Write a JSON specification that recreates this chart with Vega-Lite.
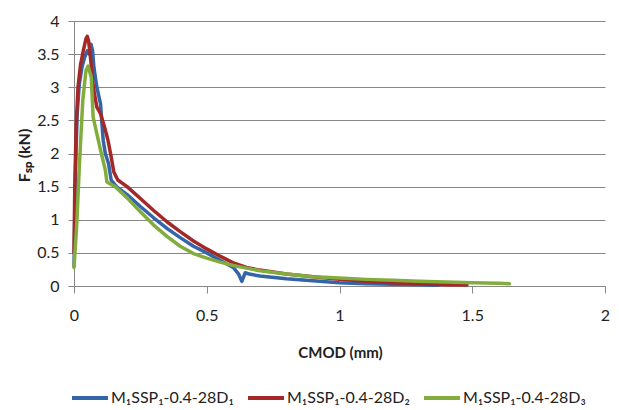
{
  "$schema": "https://vega.github.io/schema/vega-lite/v6.json",
  "width": 531,
  "height": 265,
  "autosize": "none",
  "padding": {"left": 74, "top": 21, "right": 14, "bottom": 124},
  "background": "white",
  "config": {
    "view": {"stroke": null},
    "font": "Lato",
    "axis": {"labelFont": "Lato", "titleFont": "Lato", "labelColor": "#222", "titleColor": "#222", "labelFlush": false, "format": "~g"},
    "legend": {"labelFont": "Lato"}
  },
  "data": {
    "values": [
      {"s": "D1", "o": 1, "x": 0, "y": 0.3},
      {"s": "D1", "o": 2, "x": 0.002, "y": 0.8},
      {"s": "D1", "o": 3, "x": 0.006, "y": 1.8},
      {"s": "D1", "o": 4, "x": 0.012, "y": 2.6},
      {"s": "D1", "o": 5, "x": 0.02, "y": 3.05},
      {"s": "D1", "o": 6, "x": 0.03, "y": 3.3},
      {"s": "D1", "o": 7, "x": 0.04, "y": 3.45},
      {"s": "D1", "o": 8, "x": 0.05, "y": 3.55},
      {"s": "D1", "o": 9, "x": 0.058, "y": 3.5},
      {"s": "D1", "o": 10, "x": 0.064, "y": 3.65},
      {"s": "D1", "o": 11, "x": 0.07, "y": 3.55},
      {"s": "D1", "o": 12, "x": 0.075, "y": 3.3},
      {"s": "D1", "o": 13, "x": 0.086, "y": 3.0},
      {"s": "D1", "o": 14, "x": 0.1, "y": 2.75},
      {"s": "D1", "o": 15, "x": 0.106, "y": 2.4},
      {"s": "D1", "o": 16, "x": 0.11, "y": 2.2},
      {"s": "D1", "o": 17, "x": 0.118, "y": 2.0},
      {"s": "D1", "o": 18, "x": 0.13, "y": 1.85},
      {"s": "D1", "o": 19, "x": 0.14, "y": 1.6},
      {"s": "D1", "o": 20, "x": 0.16, "y": 1.5},
      {"s": "D1", "o": 21, "x": 0.2, "y": 1.38},
      {"s": "D1", "o": 22, "x": 0.25, "y": 1.2},
      {"s": "D1", "o": 23, "x": 0.3, "y": 1.03},
      {"s": "D1", "o": 24, "x": 0.35, "y": 0.87},
      {"s": "D1", "o": 25, "x": 0.4, "y": 0.73},
      {"s": "D1", "o": 26, "x": 0.45, "y": 0.6},
      {"s": "D1", "o": 27, "x": 0.5, "y": 0.5},
      {"s": "D1", "o": 28, "x": 0.55, "y": 0.39},
      {"s": "D1", "o": 29, "x": 0.6, "y": 0.28},
      {"s": "D1", "o": 30, "x": 0.62, "y": 0.18},
      {"s": "D1", "o": 31, "x": 0.632, "y": 0.07},
      {"s": "D1", "o": 32, "x": 0.645, "y": 0.2},
      {"s": "D1", "o": 33, "x": 0.66, "y": 0.18},
      {"s": "D1", "o": 34, "x": 0.7, "y": 0.15},
      {"s": "D1", "o": 35, "x": 0.8, "y": 0.11},
      {"s": "D1", "o": 36, "x": 0.9, "y": 0.08},
      {"s": "D1", "o": 37, "x": 1.0, "y": 0.05},
      {"s": "D1", "o": 38, "x": 1.1, "y": 0.035},
      {"s": "D1", "o": 39, "x": 1.2, "y": 0.025},
      {"s": "D1", "o": 40, "x": 1.3, "y": 0.02},
      {"s": "D1", "o": 41, "x": 1.37, "y": 0.01},
      {"s": "D2", "o": 1, "x": 0, "y": 0.5},
      {"s": "D2", "o": 2, "x": 0.003, "y": 1.5},
      {"s": "D2", "o": 3, "x": 0.008, "y": 2.4},
      {"s": "D2", "o": 4, "x": 0.015, "y": 3.0},
      {"s": "D2", "o": 5, "x": 0.025, "y": 3.35},
      {"s": "D2", "o": 6, "x": 0.035, "y": 3.55},
      {"s": "D2", "o": 7, "x": 0.045, "y": 3.73},
      {"s": "D2", "o": 8, "x": 0.05, "y": 3.77},
      {"s": "D2", "o": 9, "x": 0.055, "y": 3.7},
      {"s": "D2", "o": 10, "x": 0.062, "y": 3.45},
      {"s": "D2", "o": 11, "x": 0.07, "y": 3.1},
      {"s": "D2", "o": 12, "x": 0.077, "y": 2.9},
      {"s": "D2", "o": 13, "x": 0.086, "y": 2.7},
      {"s": "D2", "o": 14, "x": 0.1, "y": 2.6},
      {"s": "D2", "o": 15, "x": 0.115, "y": 2.4},
      {"s": "D2", "o": 16, "x": 0.128, "y": 2.2},
      {"s": "D2", "o": 17, "x": 0.14, "y": 1.95},
      {"s": "D2", "o": 18, "x": 0.15, "y": 1.72},
      {"s": "D2", "o": 19, "x": 0.165, "y": 1.6},
      {"s": "D2", "o": 20, "x": 0.2, "y": 1.5},
      {"s": "D2", "o": 21, "x": 0.25, "y": 1.32},
      {"s": "D2", "o": 22, "x": 0.3, "y": 1.14},
      {"s": "D2", "o": 23, "x": 0.35, "y": 0.97},
      {"s": "D2", "o": 24, "x": 0.4, "y": 0.82},
      {"s": "D2", "o": 25, "x": 0.45, "y": 0.68},
      {"s": "D2", "o": 26, "x": 0.5, "y": 0.56},
      {"s": "D2", "o": 27, "x": 0.55, "y": 0.45},
      {"s": "D2", "o": 28, "x": 0.6, "y": 0.35},
      {"s": "D2", "o": 29, "x": 0.65, "y": 0.28},
      {"s": "D2", "o": 30, "x": 0.7, "y": 0.24},
      {"s": "D2", "o": 31, "x": 0.8, "y": 0.18},
      {"s": "D2", "o": 32, "x": 0.9, "y": 0.14},
      {"s": "D2", "o": 33, "x": 1.0, "y": 0.1},
      {"s": "D2", "o": 34, "x": 1.1, "y": 0.07},
      {"s": "D2", "o": 35, "x": 1.2, "y": 0.05},
      {"s": "D2", "o": 36, "x": 1.3, "y": 0.035},
      {"s": "D2", "o": 37, "x": 1.4, "y": 0.02},
      {"s": "D2", "o": 38, "x": 1.48, "y": 0.015},
      {"s": "D3", "o": 1, "x": 0, "y": 0.28},
      {"s": "D3", "o": 2, "x": 0.01, "y": 0.9},
      {"s": "D3", "o": 3, "x": 0.02, "y": 1.8},
      {"s": "D3", "o": 4, "x": 0.033, "y": 2.8},
      {"s": "D3", "o": 5, "x": 0.045, "y": 3.25},
      {"s": "D3", "o": 6, "x": 0.053, "y": 3.32},
      {"s": "D3", "o": 7, "x": 0.065, "y": 3.15},
      {"s": "D3", "o": 8, "x": 0.072, "y": 2.55},
      {"s": "D3", "o": 9, "x": 0.086, "y": 2.3},
      {"s": "D3", "o": 10, "x": 0.1, "y": 2.05},
      {"s": "D3", "o": 11, "x": 0.118, "y": 1.75},
      {"s": "D3", "o": 12, "x": 0.124, "y": 1.57},
      {"s": "D3", "o": 13, "x": 0.155, "y": 1.5},
      {"s": "D3", "o": 14, "x": 0.2, "y": 1.33},
      {"s": "D3", "o": 15, "x": 0.25, "y": 1.12},
      {"s": "D3", "o": 16, "x": 0.3, "y": 0.92},
      {"s": "D3", "o": 17, "x": 0.35, "y": 0.75},
      {"s": "D3", "o": 18, "x": 0.4, "y": 0.6},
      {"s": "D3", "o": 19, "x": 0.45, "y": 0.49},
      {"s": "D3", "o": 20, "x": 0.5, "y": 0.42},
      {"s": "D3", "o": 21, "x": 0.55, "y": 0.36},
      {"s": "D3", "o": 22, "x": 0.6, "y": 0.31},
      {"s": "D3", "o": 23, "x": 0.65, "y": 0.27},
      {"s": "D3", "o": 24, "x": 0.7, "y": 0.23},
      {"s": "D3", "o": 25, "x": 0.8, "y": 0.18},
      {"s": "D3", "o": 26, "x": 0.9, "y": 0.14},
      {"s": "D3", "o": 27, "x": 1.0, "y": 0.12},
      {"s": "D3", "o": 28, "x": 1.1, "y": 0.1},
      {"s": "D3", "o": 29, "x": 1.2, "y": 0.085},
      {"s": "D3", "o": 30, "x": 1.3, "y": 0.07},
      {"s": "D3", "o": 31, "x": 1.4, "y": 0.06},
      {"s": "D3", "o": 32, "x": 1.5, "y": 0.05},
      {"s": "D3", "o": 33, "x": 1.6, "y": 0.04},
      {"s": "D3", "o": 34, "x": 1.64, "y": 0.035}
    ]
  },
  "mark": {"type": "line", "strokeWidth": 3.5, "strokeJoin": "round", "strokeCap": "round"},
  "encoding": {
    "x": {
      "field": "x", "type": "quantitative",
      "scale": {"domain": [0, 2], "nice": false},
      "axis": {
        "values": [0, 0.5, 1, 1.5, 2], "grid": false,
        "domainColor": "#878787", "tickColor": "#878787", "tickSize": 7,
        "labelFontSize": 16, "labelPadding": 14,
        "title": "CMOD (mm)", "titleFontSize": 15, "titleFontWeight": "bold",
        "titleX": 266, "titleY": 66, "titleBaseline": "middle"
      }
    },
    "y": {
      "field": "y", "type": "quantitative",
      "scale": {"domain": [0, 4], "nice": false},
      "axis": {
        "values": [0, 0.5, 1, 1.5, 2, 2.5, 3, 3.5, 4], "grid": true,
        "gridColor": "#878787", "gridOpacity": 1,
        "domainColor": "#878787", "tickColor": "#878787", "tickSize": 6,
        "labelFontSize": 16, "labelPadding": 9,
        "title": "Fₛₚ (kN)", "titleFontSize": 16, "titleFontWeight": "bold",
        "titleX": -50, "titleY": 134, "titleAngle": 270, "titleAlign": "center", "titleBaseline": "middle"
      }
    },
    "color": {
      "field": "s", "type": "nominal",
      "scale": {"domain": ["D1", "D2", "D3"], "range": ["#3465A8", "#A52828", "#82AC3C"]},
      "legend": {
        "orient": "none", "legendX": -4, "legendY": 357, "direction": "horizontal",
        "title": null, "symbolType": "stroke", "symbolSize": 1296, "symbolStrokeWidth": 4,
        "labelFontSize": 16, "labelOffset": 1, "columnPadding": 6, "labelColor": "#222",
        "labelExpr": "datum.label == 'D1' ? 'M₁SSP₁-0.4-28D₁' : datum.label == 'D2' ? 'M₁SSP₁-0.4-28D₂' : 'M₁SSP₁-0.4-28D₃'",
        "labelLimit": 300
      }
    },
    "order": {"field": "o", "type": "quantitative"}
  }
}
